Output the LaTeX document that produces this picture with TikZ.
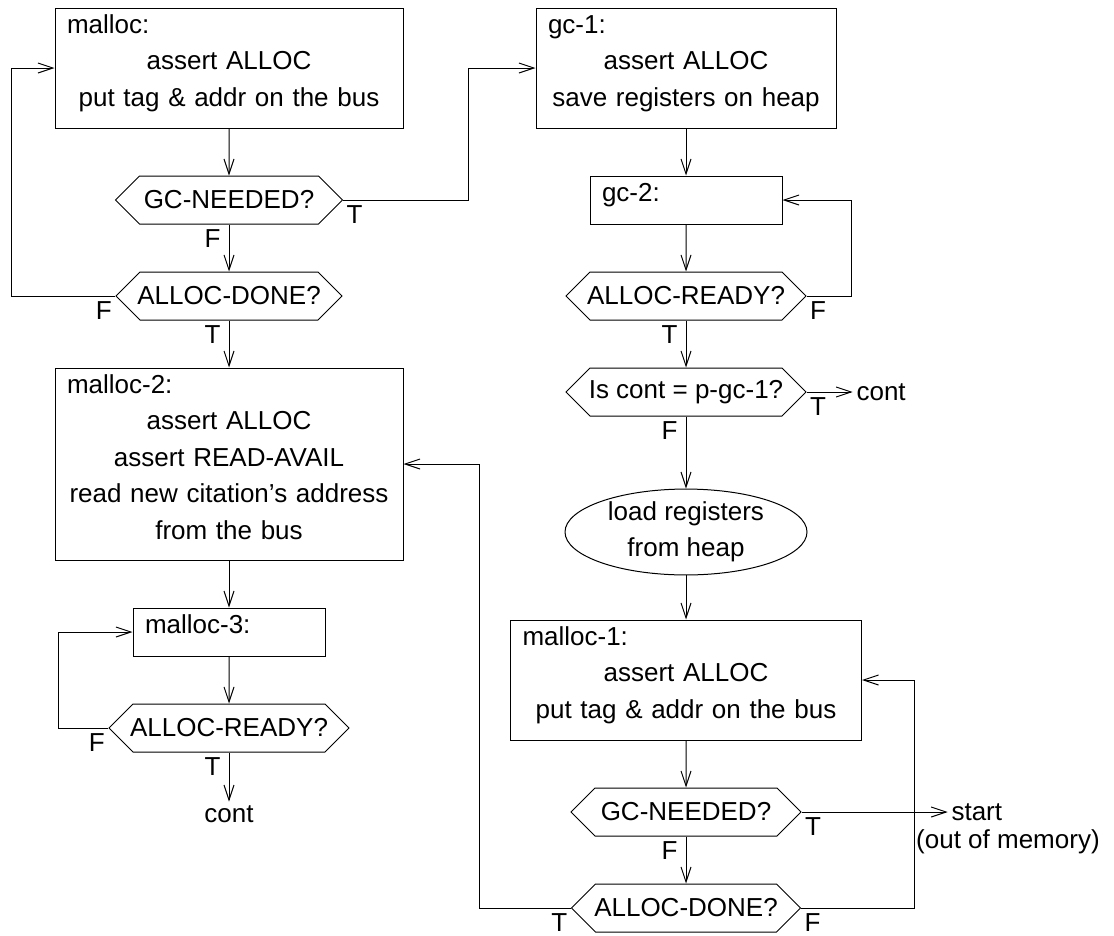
\documentclass[tikz,border=0pt]{standalone}
\usepackage{fontspec}
\setmainfont{Liberation Sans}
\usetikzlibrary{positioning,shapes.geometric,shapes.symbols,arrows.meta}
\newcommand{\boxtitle}[1]{\makebox[\hsize][l]{#1}}

\begin{document}
\begin{tikzpicture}[x=1pt,y=-1pt,line width=1pt,>={Straight Barb[length=15pt,width=10pt]},every node/.style={font=\fontsize{26}{36.5}\selectfont},stepbox/.style={draw,rectangle,align=center,inner xsep=12pt,inner ysep=0pt,text height=25pt},testhex/.style={draw,signal,signal to=west and east,signal pointer angle=90,inner xsep=-3pt,minimum height=48pt,minimum width=#1},tlab/.style={inner xsep=3pt,inner ysep=5pt},vlab/.style={inner xsep=8pt,inner ysep=5pt}]
\useasboundingbox (0,0) rectangle (1114,935);
\node[stepbox,text width=324pt,text depth=95pt] (malloc) at (229,68) {\boxtitle{malloc:}\\assert ALLOC\\put tag \& addr on the bus};
\node[testhex=227pt] (gcneed) at (229,200) {GC-NEEDED?};
\node[testhex=226pt] (adone) at (229,296) {ALLOC-DONE?};
\node[stepbox,text width=324pt,text depth=167pt] (malloc2) at (229,464) {\boxtitle{malloc-2:}\\assert ALLOC\\assert READ-AVAIL\\read new citation’s address\\from the bus};
\node[stepbox,text width=168pt,text depth=23pt] (malloc3) at (229,632) {\boxtitle{malloc-3:}};
\node[testhex=240pt] (aready) at (229,728) {ALLOC-READY?};
\node (cont1) at (229,814) {cont};
\node[stepbox,text width=276pt,text depth=95pt] (gc1) at (686,68) {\boxtitle{gc-1:}\\assert ALLOC\\save registers on heap};
\node[stepbox,text width=168pt,text depth=23pt] (gc2) at (686,200) {\boxtitle{gc-2:}};
\node[testhex=240pt] (aready2) at (686,296) {ALLOC-READY?};
\node[testhex=240pt] (iscont) at (686,392) {Is cont = p-gc-1?};
\node[right=46pt of iscont] (cont2) {cont};
\node[draw,ellipse,minimum width=242pt,minimum height=80pt,align=center,inner sep=0pt] (load) at (686,532) {load registers\\from heap};
\node[stepbox,text width=327pt,text depth=95pt] (malloc1) at (686,680) {\boxtitle{malloc-1:}\\assert ALLOC\\put tag \& addr on the bus};
\node[testhex=230pt] (gcneed2) at (686,812) {GC-NEEDED?};
\node[testhex=229pt] (adone2) at (686,908) {ALLOC-DONE?};
\node[right=146pt of gcneed2] (start) {start};
\node[anchor=north west,inner sep=0pt] (oom) at ([xshift=-32pt,yshift=-5pt]start.south west) {(out of memory)};
\draw[->] (malloc) -- (gcneed);
\draw[->] (gcneed.south) node[vlab,below left] {F} -- (adone.north);
\draw[->] (gcneed.east) node[tlab,below right] {T} -- ++(125,0) |- (gc1.west);
\draw[->] (adone.west) node[tlab,below left] {F} -- ++(-104,0) |- (malloc.west);
\draw[->] (adone.south) node[vlab,below left] {T} -- (malloc2.north);
\draw[->] (malloc2) -- (malloc3);
\draw[->] (malloc3) -- (aready);
\draw[->] (aready.west) node[tlab,below left] {F} -- ++(-50,0) |- (malloc3.west);
\draw[->] (aready.south) node[vlab,below left] {T} -- (cont1);
\draw[->] (gc1) -- (gc2);
\draw[->] (gc2) -- (aready2);
\draw[->] (aready2.east) node[tlab,below right] {F} -- ++(45,0) |- (gc2.east);
\draw[->] (aready2.south) node[vlab,below left] {T} -- (iscont.north);
\draw[->] (iscont.east) node[tlab,below right] {T} -- (cont2);
\draw[->] (iscont.south) node[vlab,below left] {F} -- (load);
\draw[->] (load) -- (malloc1);
\draw[->] (malloc1) -- (gcneed2);
\draw[->] (gcneed2.east) node[tlab,below right] {T} -- (start);
\draw[->] (gcneed2.south) node[vlab,below left] {F} -- (adone2.north);
\draw[->] (adone2.west) node[tlab,below left] {T} -- ++(-91,0) |- (malloc2.east);
\draw[->] (adone2.east) node[tlab,below right] {F} -- ++(113,0) |- (malloc1.east);
\end{tikzpicture}
\end{document}
